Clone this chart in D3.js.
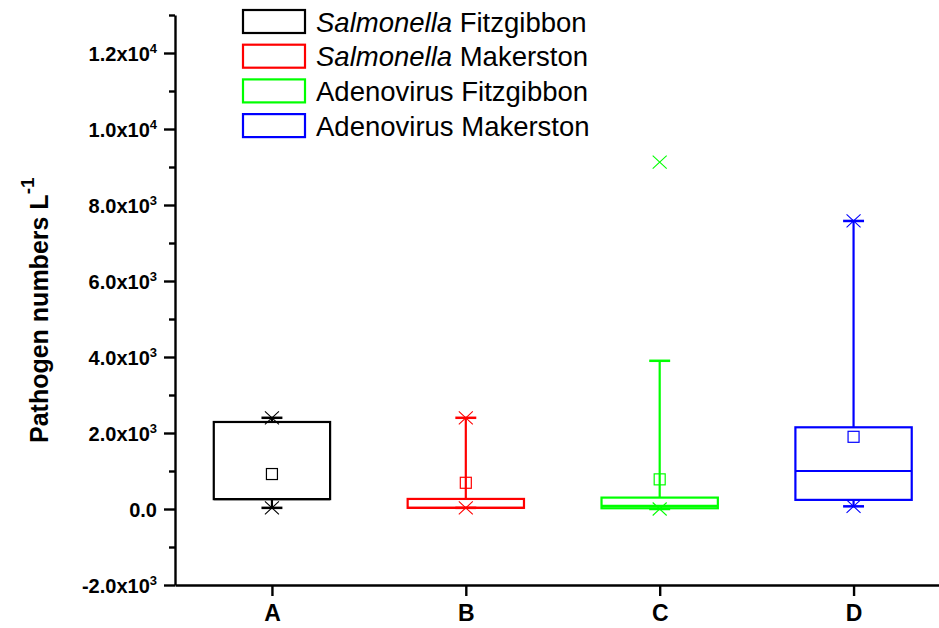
<!DOCTYPE html>
<html>
<head>
<meta charset="utf-8">
<script src="https://cdn.jsdelivr.net/npm/d3@7"></script>
<style>
  html, body { margin: 0; padding: 0; background: #fff; }
  svg { display: block; font-family: "Liberation Sans", Arial, Helvetica, sans-serif; }
</style>
</head>
<body>
<svg id="chart" width="939" height="628"></svg>
<script>
// Categories on the x axis
const categories = ["A", "B", "C", "D"];

// Legend entries: italic genus part, then plain part
const legendItalic = ["Salmonella", "Salmonella", "", ""];
const legendPlain = ["Fitzgibbon", "Makerston", "Adenovirus Fitzgibbon", "Adenovirus Makerston"];
const colors = ["#000000", "#ff0000", "#00ff00", "#0000ff"];

// Box statistics per series (pathogen numbers per litre)
const q1 = [260, 30, 20, 240];
const median = [260, 30, 80, 1000];
const q3 = [2290, 265, 300, 2150];
const whiskerLow = [30, 30, 0, 70];
const whiskerHigh = [2400, 2400, 3900, 7580];
const means = [920, 690, 780, 1900];
// Extreme points marked with a cross (low, high)
const extremeLow = [30, 30, 0, 70];
const extremeHigh = [2400, 2400, 9130, 7580];

// Y axis ticks and their labels (mantissa, power of ten)
const yMajorTicks = [-2000, 0, 2000, 4000, 6000, 8000, 10000, 12000];
const yMantissa = ["-2.0", "0.0", "2.0", "4.0", "6.0", "8.0", "1.0", "1.2"];
const yPower = ["3", "", "3", "3", "3", "3", "4", "4"];
const yMinorTicks = [-1000, 1000, 3000, 5000, 7000, 9000, 11000, 13000];

const svg = d3.select("#chart");

const plotLeft = 175, plotBottom = 585, plotTop = 15;
const x = d3.scaleLinear().domain([0.5, 4.5]).range([plotLeft, 950.5]);
const y = d3.scaleLinear().domain([-2000, 13000]).range([plotBottom, plotTop]);

const boxHalf = 0.3;   // half box width in category units
const capHalf = 0.054; // half whisker cap width in category units

// ---- Boxes ----
const data = categories.map((c, i) => ({
  i, c, color: colors[i],
  q1: q1[i], med: median[i], q3: q3[i],
  wl: whiskerLow[i], wh: whiskerHigh[i],
  mean: means[i], lo: extremeLow[i], hi: extremeHigh[i]
}));

const g = svg.append("g");
const box = g.selectAll("g.box").data(data).join("g").attr("class", "box")
  .attr("stroke", d => d.color).attr("fill", "none");

// whiskers
box.append("line").attr("stroke-width", 2.2)
  .attr("x1", d => x(d.i + 1)).attr("x2", d => x(d.i + 1))
  .attr("y1", d => y(d.q3)).attr("y2", d => y(d.wh));
box.append("line").attr("stroke-width", 2.2)
  .attr("x1", d => x(d.i + 1)).attr("x2", d => x(d.i + 1))
  .attr("y1", d => y(d.q1)).attr("y2", d => y(d.wl));
// whisker caps
box.append("line").attr("stroke-width", 2.5)
  .attr("x1", d => x(d.i + 1 - capHalf)).attr("x2", d => x(d.i + 1 + capHalf))
  .attr("y1", d => y(d.wh)).attr("y2", d => y(d.wh));
box.append("line").attr("stroke-width", 2.5)
  .attr("x1", d => x(d.i + 1 - capHalf)).attr("x2", d => x(d.i + 1 + capHalf))
  .attr("y1", d => y(d.wl)).attr("y2", d => y(d.wl));
// box
box.append("rect").attr("stroke-width", 2.2)
  .attr("x", d => x(d.i + 1 - boxHalf))
  .attr("width", d => x(d.i + 1 + boxHalf) - x(d.i + 1 - boxHalf))
  .attr("y", d => y(d.q3))
  .attr("height", d => y(d.q1) - y(d.q3));
// median
box.append("line").attr("stroke-width", 2.2)
  .attr("x1", d => x(d.i + 1 - boxHalf)).attr("x2", d => x(d.i + 1 + boxHalf))
  .attr("y1", d => y(d.med)).attr("y2", d => y(d.med));
// mean square
box.append("rect").attr("stroke-width", 1.2)
  .attr("x", d => x(d.i + 1) - 5.5).attr("y", d => y(d.mean) - 5.5)
  .attr("width", 11).attr("height", 11);
// crosses at extremes
const cross = (sel, acc) => sel.append("path").attr("stroke-width", 1.1)
  .attr("d", d => {
    const cx = x(d.i + 1), cy = y(acc(d));
    return `M${cx - 7},${cy - 6.5}L${cx + 7},${cy + 6.5}M${cx - 7},${cy + 6.5}L${cx + 7},${cy - 6.5}`;
  });
cross(box, d => d.hi);
cross(box, d => d.lo);

// ---- Axes ----
const yAxis = d3.axisLeft(y).tickValues(yMajorTicks).tickSize(11).tickSizeOuter(0)
  .tickPadding(6).tickFormat((d, i) => yMantissa[i] + (yPower[i] ? "x10" : ""));
const yg = svg.append("g").attr("transform", `translate(${plotLeft},0)`).call(yAxis);
yg.selectAll(".tick text").each(function (d, i) {
  if (yPower[i]) {
    d3.select(this).append("tspan").attr("dy", "-0.62em").attr("font-size", 13).text(yPower[i]);
  }
});
yg.selectAll(".tick text").attr("font-size", 20).attr("font-weight", "bold")
  .attr("fill", "#000").attr("dy", "0.36em").attr("x", -18);

const yMinor = d3.axisLeft(y).tickValues(yMinorTicks).tickSize(6).tickSizeOuter(0).tickFormat("");
svg.append("g").attr("transform", `translate(${plotLeft},0)`).call(yMinor)
  .select(".domain").remove();

const xAxis = d3.axisBottom(x).tickValues(categories.map((c, i) => i + 1))
  .tickSize(11).tickSizeOuter(0).tickPadding(9).tickFormat((d, i) => categories[i]);
const xg = svg.append("g").attr("transform", `translate(0,${plotBottom})`).call(xAxis);
xg.selectAll(".tick text").attr("font-size", 23).attr("font-weight", "bold").attr("fill", "#000");

svg.selectAll(".domain, .tick line").attr("stroke", "#000").attr("stroke-width", 2.4);

// ---- Y axis title ----
const title = svg.append("text")
  .attr("transform", "translate(48,443) rotate(-90)")
  .attr("font-size", 25).attr("font-weight", "bold").attr("fill", "#000");
title.append("tspan").text("Pathogen numbers L");
title.append("tspan").attr("font-size", 19).attr("dy", "-0.75em").text("-1");

// ---- Legend ----
const leg = svg.append("g").selectAll("g").data(legendPlain).join("g")
  .attr("transform", (d, i) => `translate(243,${10 + i * 34.7})`);
leg.append("rect").attr("width", 62).attr("height", 23).attr("fill", "none")
  .attr("stroke", (d, i) => colors[i]).attr("stroke-width", 2.2);
const lt = leg.append("text").attr("x", 73).attr("y", 21.5).attr("font-size", 27.5).attr("fill", "#000");
lt.append("tspan").attr("font-style", "italic").text((d, i) => legendItalic[i] ? legendItalic[i] + " " : "");
lt.append("tspan").text(d => d);
</script>
</body>
</html>
